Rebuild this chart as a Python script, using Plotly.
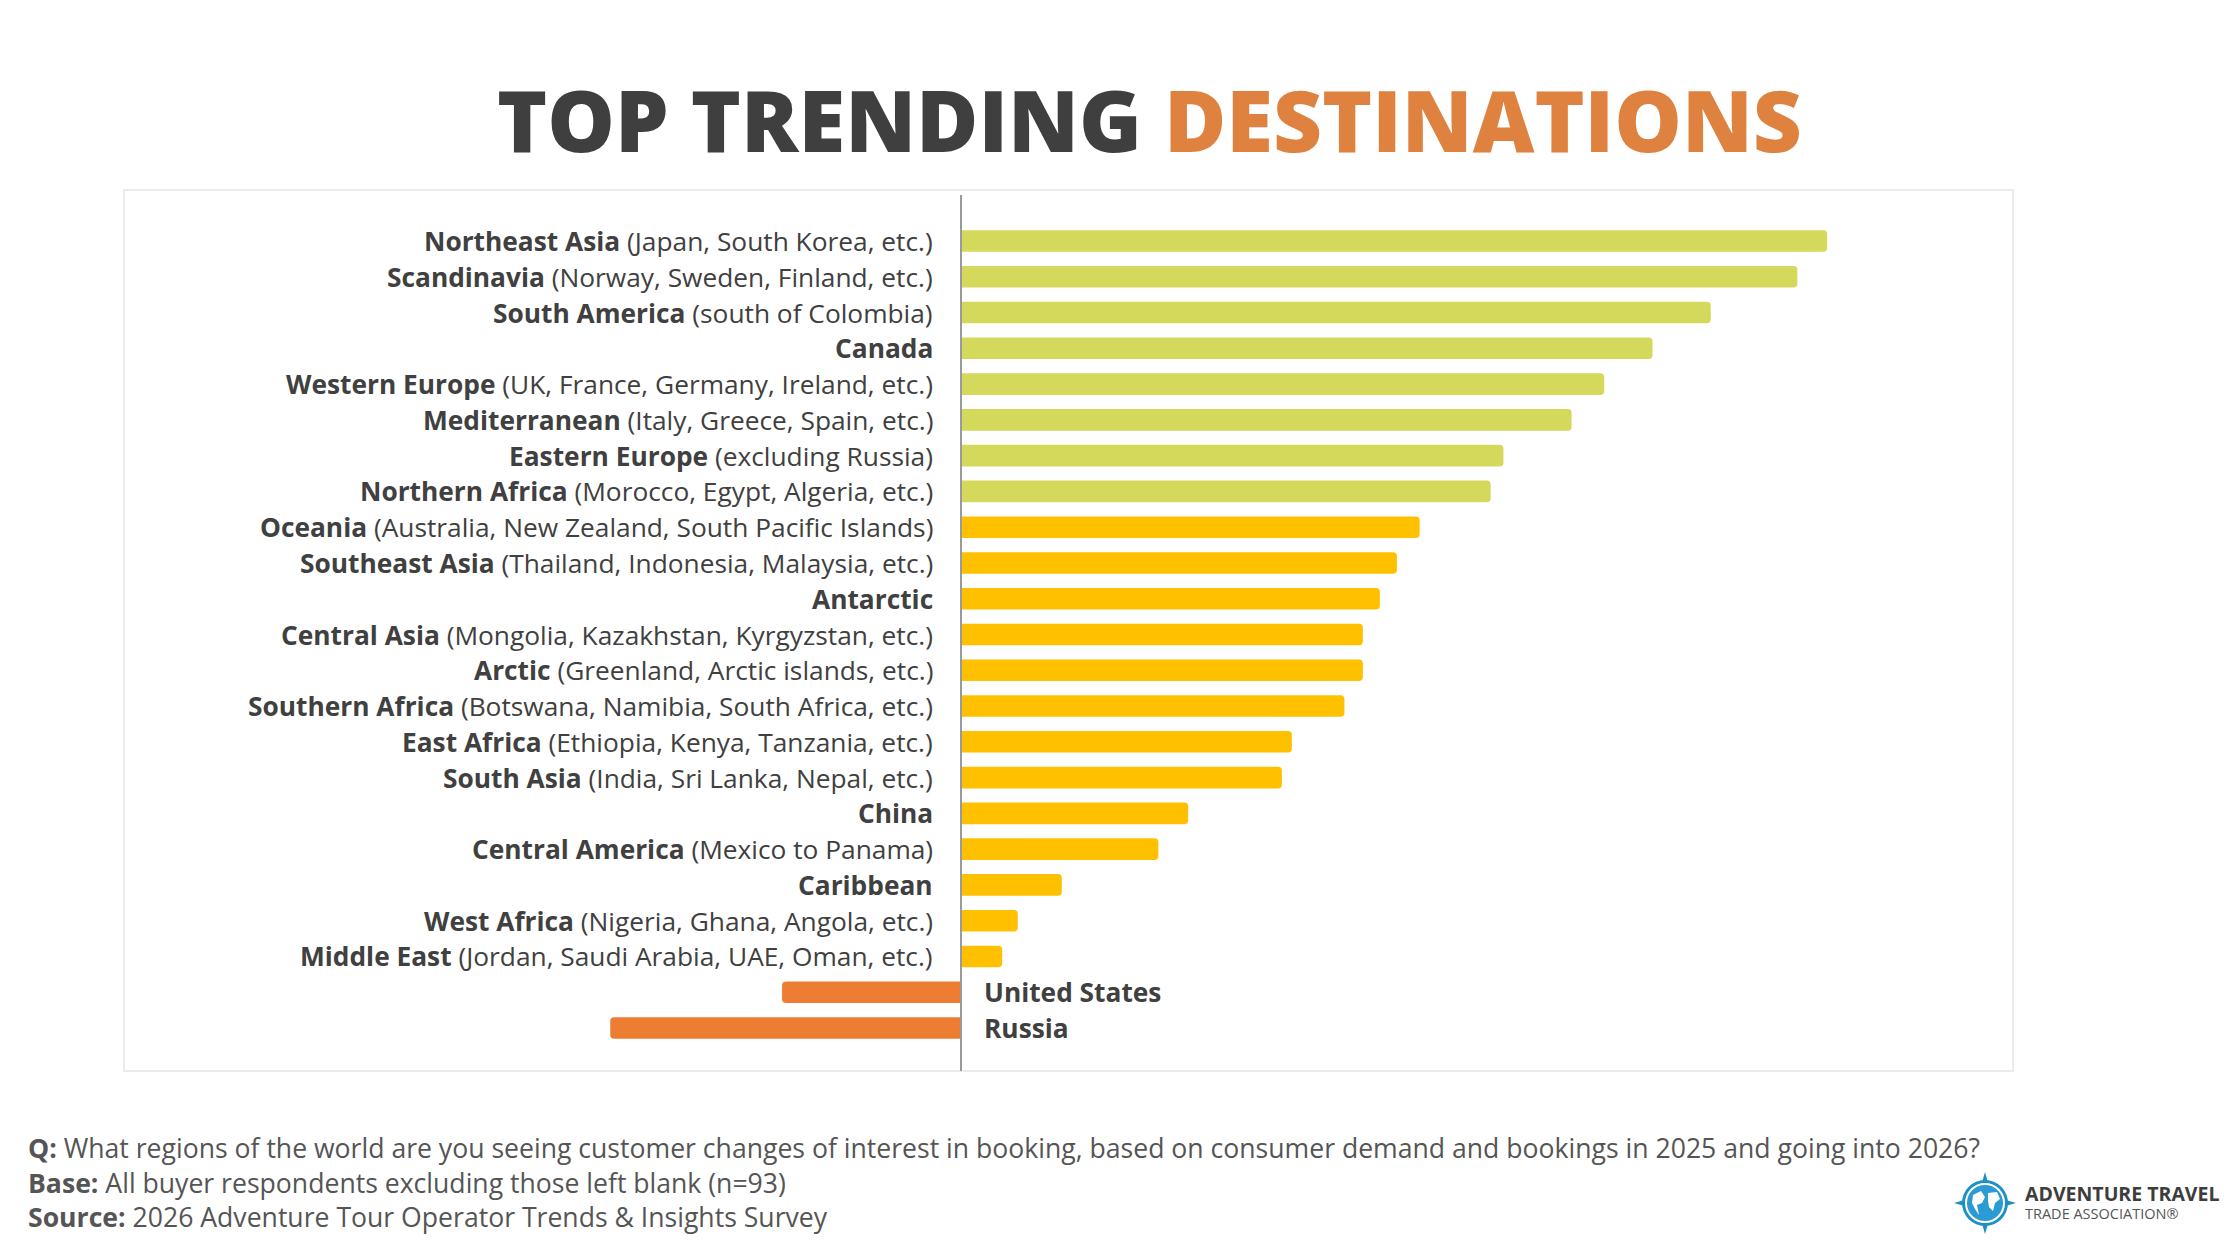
import plotly.graph_objects as go

# ---------------- data ----------------
regions = [
    "Northeast Asia", "Scandinavia", "South America", "Canada", "Western Europe",
    "Mediterranean", "Eastern Europe", "Northern Africa", "Oceania", "Southeast Asia",
    "Antarctic", "Central Asia", "Arctic", "Southern Africa", "East Africa",
    "South Asia", "China", "Central America", "Caribbean", "West Africa",
    "Middle East", "United States", "Russia",
]
details = [
    "(Japan, South Korea, etc.)", "(Norway, Sweden, Finland, etc.)", "(south of Colombia)", "",
    "(UK, France, Germany, Ireland, etc.)", "(Italy, Greece, Spain, etc.)", "(excluding Russia)",
    "(Morocco, Egypt, Algeria, etc.)", "(Australia, New Zealand, South Pacific Islands)",
    "(Thailand, Indonesia, Malaysia, etc.)", "", "(Mongolia, Kazakhstan, Kyrgyzstan, etc.)",
    "(Greenland, Arctic islands, etc.)", "(Botswana, Namibia, South Africa, etc.)",
    "(Ethiopia, Kenya, Tanzania, etc.)", "(India, Sri Lanka, Nepal, etc.)", "", "(Mexico to Panama)",
    "", "(Nigeria, Ghana, Angola, etc.)", "(Jordan, Saudi Arabia, UAE, Oman, etc.)", "", "",
]
values = [61.0, 58.9, 52.8, 48.7, 45.3, 43.0, 38.2, 37.3, 32.3, 30.7, 29.5, 28.3, 28.3,
          27.0, 23.3, 22.6, 16.0, 13.9, 7.1, 4.0, 2.9, -12.6, -24.7]

title_dark = "TOP TRENDING"
title_accent = "DESTINATIONS"
footer_lines = [
    ("Q:", "What regions of the world are you seeing customer changes of interest in booking, based on consumer demand and bookings in 2025 and going into 2026?"),
    ("Base:", "All buyer respondents excluding those left blank (n=93)"),
    ("Source:", "2026 Adventure Tour Operator Trends & Insights Survey"),
]
logo_main = "ADVENTURE TRAVEL"
logo_sub = "TRADE ASSOCIATION®"

# ---------------- styling / layout ----------------
OFF = 8  # page body margin compensation
W_PX, H_PX = 2234 - OFF, 1252 - OFF
L, R, T, B = 124 - OFF, 2013 - OFF, 221 - OFF, 1048 - OFF
ZERO_PX = 961 - OFF
PX_PER_UNIT = 14.2
GREEN, YELLOW, ORANGE = "#D4D95B", "#FFC000", "#EC7D32"
TEXT = "#404040"
FONT = "Open Sans"


def px(x):
    return (x - OFF - L) / (R - L)


def py(y):
    return (B - (y - OFF)) / (B - T)


def bar_color(v):
    if v < 0:
        return ORANGE
    return GREEN if v >= 35 else YELLOW


fig = go.Figure(go.Bar(
    x=values, y=regions, orientation="h",
    marker=dict(color=[bar_color(v) for v in values], line=dict(width=0)),
    hoverinfo="skip",
))

annotations = []
for name, det, v in zip(regions, details, values):
    txt = f"<b>{name}</b>" + (f" {det}" if det else "")
    pos = v >= 0
    annotations.append(dict(x=0, y=name, xref="x", yref="y", text=txt, showarrow=False,
                            xanchor="right" if pos else "left", xshift=-26 if pos else 21,
                            font=dict(family=FONT, size=26.3, color=TEXT)))

annotations.append(dict(
    x=px(1149), y=py(119), xref="paper", yref="paper", showarrow=False,
    xanchor="center", yanchor="middle",
    text=f"{title_dark} <span style='color:#E0823F'>{title_accent}</span>",
    font=dict(family=FONT, size=85, color="#3F3F3F", weight=800),
))

for (lab, body), yy in zip(footer_lines, [1148, 1183, 1217]):
    annotations.append(dict(
        x=px(26), y=py(yy), xref="paper", yref="paper", showarrow=False,
        xanchor="left", yanchor="middle",
        text=f"<b>{lab}</b> {body}",
        font=dict(family=FONT, size=26.6, color="#555555"),
    ))

annotations.append(dict(x=px(2023), y=py(1193), xref="paper", yref="paper", showarrow=False,
                        xanchor="left", yanchor="middle", text=f"<b>{logo_main}</b>",
                        font=dict(family=FONT, size=19.5, color="#3D3D3D", weight=800)))
annotations.append(dict(x=px(2023), y=py(1213), xref="paper", yref="paper", showarrow=False,
                        xanchor="left", yanchor="middle", text=logo_sub,
                        font=dict(family=FONT, size=14.5, color="#555555")))

shapes = [
    # chart frame
    dict(type="rect", xref="paper", yref="paper", x0=0, x1=1, y0=py(1071), y1=py(190),
         line=dict(color="#EBEBEB", width=2), layer="below"),
    # zero line
    dict(type="line", xref="x", yref="paper", x0=0, x1=0, y0=py(1071), y1=py(195),
         line=dict(color="#9A9A9A", width=2), layer="above"),
]

# logo compass/globe
cx, cy = px(1985), py(1203)
star = "M 0 31 L 7 7 L 31 0 L 7 -7 L 0 -31 L -7 -7 L -31 0 L -7 7 Z"
shapes += [
    dict(type="path", xref="paper", yref="paper", xsizemode="pixel", ysizemode="pixel",
         xanchor=cx, yanchor=cy, path=star, fillcolor="#1E8FC6", line=dict(width=0)),
    dict(type="circle", xref="paper", yref="paper", xsizemode="pixel", ysizemode="pixel",
         xanchor=cx, yanchor=cy, x0=-23, x1=23, y0=-23, y1=23, fillcolor="#1E8FC6", line=dict(width=0)),
    dict(type="circle", xref="paper", yref="paper", xsizemode="pixel", ysizemode="pixel",
         xanchor=cx, yanchor=cy, x0=-19, x1=19, y0=-19, y1=19, fillcolor="#2A9BD3",
         line=dict(color="white", width=2)),
    dict(type="path", xref="paper", yref="paper", xsizemode="pixel", ysizemode="pixel",
         xanchor=cx, yanchor=cy,
         path="M -12 8 L -4 12 L 0 6 L -3 0 L -8 -2 L -6 -12 L -10 -6 L -13 0 Z",
         fillcolor="white", line=dict(width=0)),
    dict(type="path", xref="paper", yref="paper", xsizemode="pixel", ysizemode="pixel",
         xanchor=cx, yanchor=cy,
         path="M 3 10 L 12 11 L 15 4 L 10 0 L 8 -8 L 4 -4 L 3 2 Z",
         fillcolor="white", line=dict(width=0)),
]

fig.update_layout(
    width=W_PX, height=H_PX,
    margin=dict(l=L, r=W_PX - R, t=T, b=H_PX - B, pad=0),
    paper_bgcolor="white", plot_bgcolor="rgba(0,0,0,0)",
    showlegend=False,
    bargap=0.396,
    barcornerradius=4,
    xaxis=dict(range=[(L - ZERO_PX) / PX_PER_UNIT, (R - ZERO_PX) / PX_PER_UNIT],
               visible=False, fixedrange=True),
    yaxis=dict(type="category", categoryorder="array", categoryarray=regions,
               autorange="reversed", visible=False, fixedrange=True),
    annotations=annotations,
    shapes=shapes,
    font=dict(family=FONT, color=TEXT),
)

fig.write_html("out.html", config={"displayModeBar": False})
